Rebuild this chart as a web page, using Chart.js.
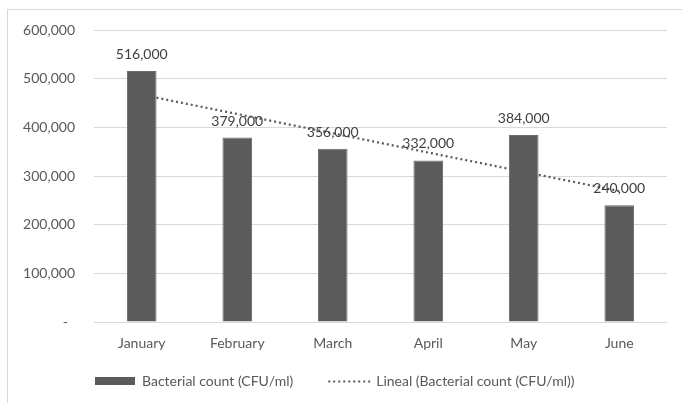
<!DOCTYPE html>
<html>
<head>
<meta charset="utf-8">
<script src="https://cdn.jsdelivr.net/npm/chart.js@4/dist/chart.umd.min.js"></script>
<style>
  html, body { margin: 0; padding: 0; background: #ffffff; }
  #wrap { width: 682px; height: 403px; }
</style>
</head>
<body>
<div id="wrap"><canvas id="c" width="682" height="403"></canvas></div>
<script>
// Monthly bacterial counts
const months = ['January', 'February', 'March', 'April', 'May', 'June'];
const counts = [516000, 379000, 356000, 332000, 384000, 240000];

// Linear trendline, given by its end points (first and last month)
const trendStart = 467000;
const trendEnd = 269000;

// Value axis ticks
const yTicks = [0, 100000, 200000, 300000, 400000, 500000, 600000];

const seriesLabel = 'Bacterial count (CFU/ml)';
const trendLabel = 'Lineal (Bacterial count (CFU/ml))';

const FONT = 'Lato, "Liberation Sans", sans-serif';
const GREY = '#5b5b5b';
const TEXT = '#595959';

const trendData = months.map((m, i) =>
  i === 0 ? trendStart : (i === months.length - 1 ? trendEnd : null));

const fmt = v => v.toLocaleString('en-US');

// Frame around the chart
const framePlugin = {
  id: 'frame',
  beforeDraw(chart) {
    const ctx = chart.ctx;
    ctx.save();
    ctx.fillStyle = '#ffffff';
    ctx.fillRect(0, 0, chart.width, chart.height);
    ctx.strokeStyle = '#d9d9d9';
    ctx.lineWidth = 1;
    ctx.strokeRect(7.5, 9.5, chart.width + 20, chart.height + 20);
    ctx.restore();
  }
};

// Value labels above each bar
const valueLabels = {
  id: 'valueLabels',
  afterDatasetsDraw(chart) {
    const meta = chart.getDatasetMeta(0);
    const ctx = chart.ctx;
    ctx.save();
    ctx.font = '14px ' + FONT;
    ctx.fillStyle = '#404040';
    ctx.textAlign = 'center';
    ctx.textBaseline = 'alphabetic';
    meta.data.forEach((bar, i) => {
      ctx.fillText(fmt(counts[i]), bar.x, bar.y - 12);
    });
    ctx.restore();
  }
};

// Legend below the axis
const bottomLegend = {
  id: 'bottomLegend',
  afterDraw(chart) {
    const ctx = chart.ctx;
    const y = 381;
    ctx.save();
    ctx.font = '14px ' + FONT;
    ctx.fillStyle = TEXT;
    ctx.textBaseline = 'middle';
    ctx.textAlign = 'left';

    let x = 95;
    ctx.fillStyle = GREY;
    ctx.fillRect(x, y - 4, 40, 8);
    x += 47;
    ctx.fillStyle = TEXT;
    ctx.fillText(seriesLabel, x, y);
    x += ctx.measureText(seriesLabel).width + 35;

    ctx.strokeStyle = GREY;
    ctx.lineWidth = 2;
    ctx.setLineDash([2, 3]);
    ctx.beginPath();
    ctx.moveTo(x, y + 0.5);
    ctx.lineTo(x + 43, y + 0.5);
    ctx.stroke();
    ctx.setLineDash([]);
    x += 48;
    ctx.fillText(trendLabel, x, y);
    ctx.restore();
  }
};

new Chart(document.getElementById('c'), {
  data: {
    labels: months,
    datasets: [
      {
        type: 'bar',
        label: seriesLabel,
        data: counts,
        backgroundColor: GREY,
        borderColor: '#6e6e6e',
        borderWidth: 1,
        barPercentage: 0.31,
        categoryPercentage: 1,
        order: 0
      },
      {
        type: 'line',
        label: trendLabel,
        data: trendData,
        spanGaps: true,
        borderColor: GREY,
        borderWidth: 2.25,
        borderDash: [2, 3],
        pointRadius: 0,
        fill: false,
        order: 1
      }
    ]
  },
  options: {
    responsive: false,
    animation: false,
    layout: { padding: { top: 30, right: 15, bottom: 51, left: 0 } },
    plugins: {
      legend: { display: false },
      tooltip: { enabled: false }
    },
    scales: {
      x: {
        offset: true,
        grid: { display: false, drawTicks: false },
        border: { display: false },
        ticks: { color: TEXT, font: { family: FONT, size: 14 }, padding: 13 },
        afterFit(scale) { scale.height = 30; }
      },
      y: {
        min: 0,
        max: 600000,
        afterBuildTicks(scale) { scale.ticks = yTicks.map(v => ({ value: v })); },
        grid: { color: '#d9d9d9', lineWidth: 1, drawTicks: false },
        border: { display: false },
        ticks: {
          color: TEXT,
          font: { family: FONT, size: 14 },
          padding: 19,
          callback: v => (v === 0 ? '-  ' : fmt(v))
        },
        afterFit(scale) { scale.width = 94; }
      }
    }
  },
  plugins: [framePlugin, valueLabels, bottomLegend]
});
</script>
</body>
</html>
